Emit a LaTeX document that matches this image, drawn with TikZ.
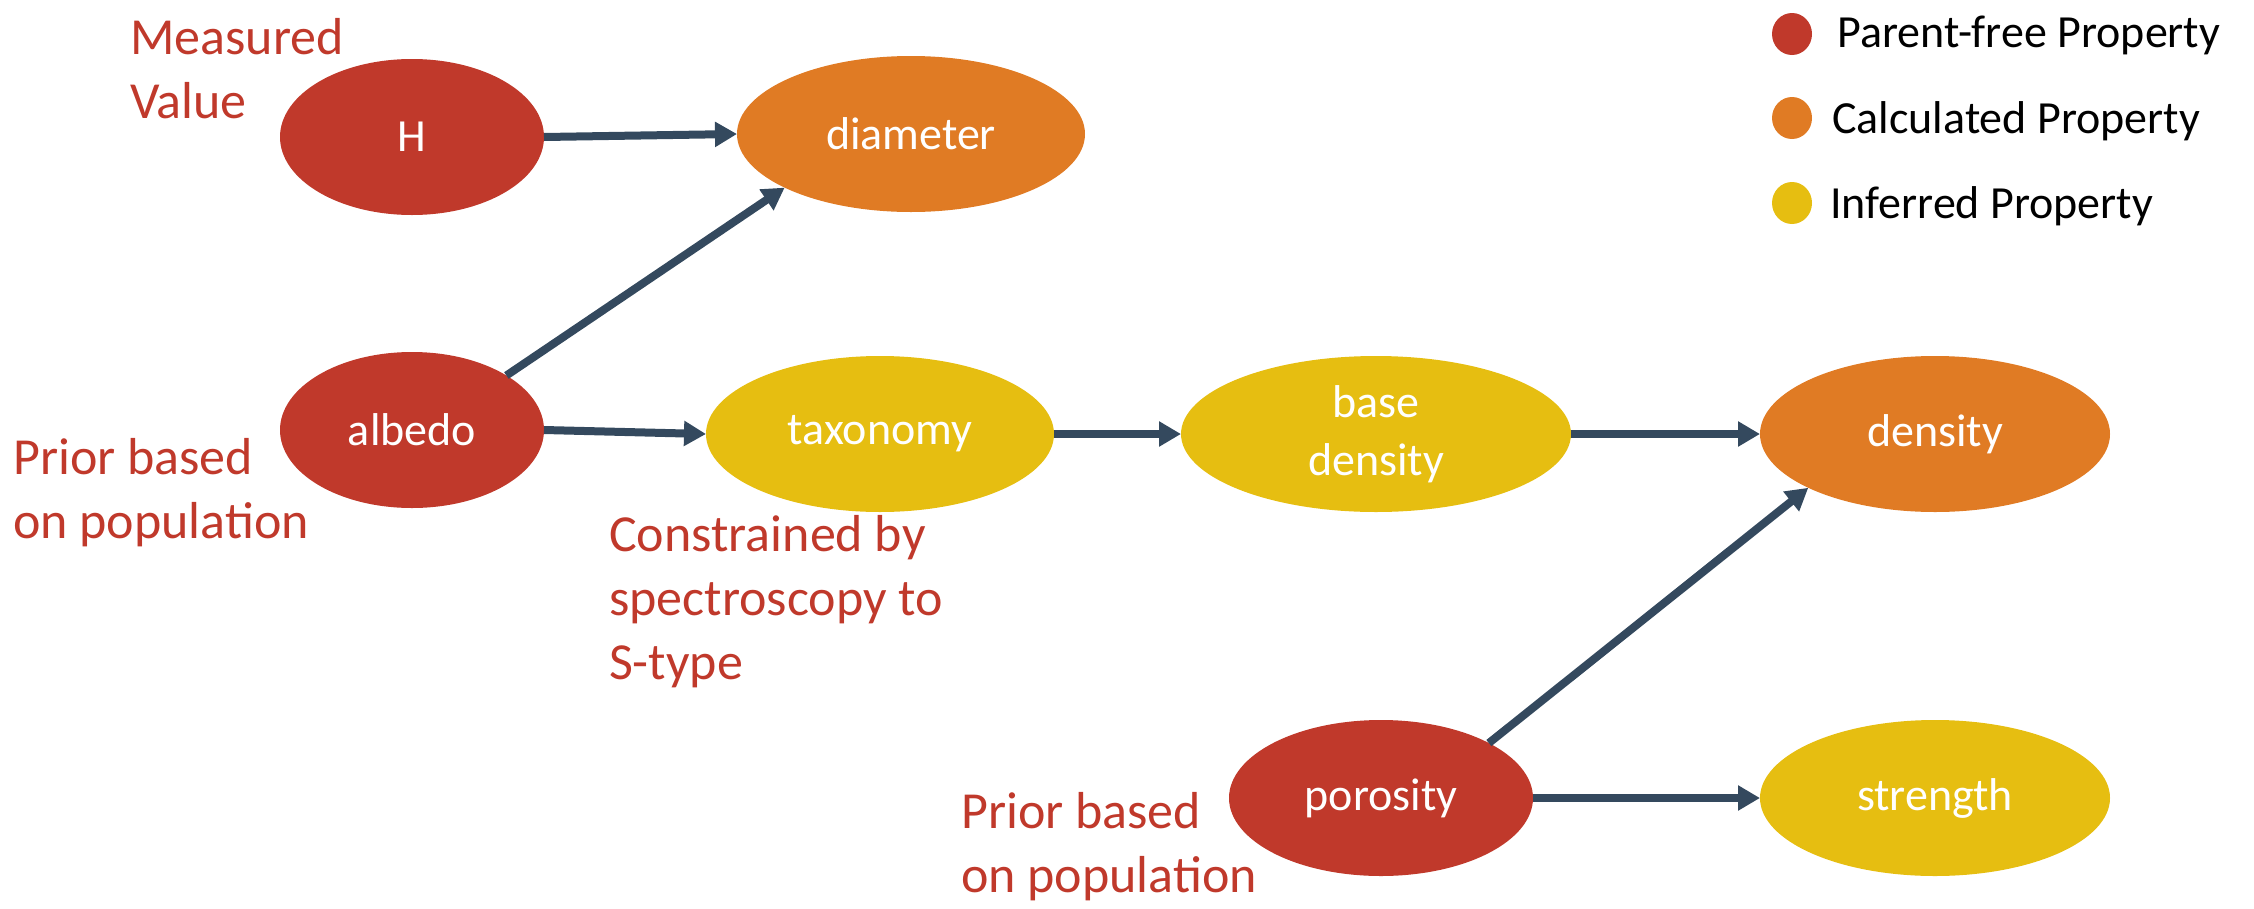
\documentclass[tikz,border=0pt]{standalone}
\usepackage{fontspec}
\setmainfont{Carlito}
\usetikzlibrary{shapes.geometric,arrows.meta}
\definecolor{cred}{HTML}{C0392B}
\definecolor{corange}{HTML}{E07B24}
\definecolor{cyellow}{HTML}{E6BE11}
\definecolor{carrow}{HTML}{34495E}
\tikzset{
  prop/.style={ellipse,inner sep=0pt,outer sep=0pt,text=white,
    font=\fontsize{46}{58}\selectfont,align=center},
  pfree/.style={prop,fill=cred},
  calc/.style={prop,fill=corange},
  infer/.style={prop,fill=cyellow},
  conn/.style={draw=carrow,line width=8pt,-{Triangle[length=22pt,width=24pt]}},
  annot/.style={text=cred,font=\fontsize{52}{64}\selectfont,align=left,inner sep=0pt,anchor=base west},
  legdot/.style={ellipse,fill=#1,minimum width=40pt,minimum height=42pt,inner sep=0pt},
  legtext/.style={font=\fontsize{46}{56}\selectfont,inner sep=0pt,anchor=base west}
}
\begin{document}
\begin{tikzpicture}[x=1pt,y=-1pt]
\useasboundingbox (0,0) rectangle (2254,908);
\node[pfree,minimum width=264pt,minimum height=156pt] (H) at (412,137) {H};
\node[calc,minimum width=348pt,minimum height=156pt] (diam) at (911,134) {diameter};
\node[pfree,minimum width=264pt,minimum height=156pt] (alb) at (412,430) {albedo};
\node[infer,minimum width=348pt,minimum height=156pt] (tax) at (880,434) {taxonomy};
\node[infer,minimum width=390pt,minimum height=156pt] (bden) at (1376,434) {base\\density};
\node[calc,minimum width=350pt,minimum height=156pt] (den) at (1935,434) {density};
\node[pfree,minimum width=304pt,minimum height=156pt] (por) at (1381,798) {porosity};
\node[infer,minimum width=350pt,minimum height=156pt] (str) at (1935,798) {strength};

\draw[conn] (H.east) -- (diam.west);
\draw[conn] (alb.30) -- (diam.203.5);
\draw[conn] (alb.east) -- (tax.west);
\draw[conn] (tax.east) -- (bden.west);
\draw[conn] (bden.east) -- (den.west);
\draw[conn] (por.27) -- (den.203.4);
\draw[conn] (por.east) -- (str.west);

\node[annot] (a1) at (130,118) {Measured\\Value};
\node[annot] (a2) at (13,538) {Prior based\\on population};
\node[annot] (a3) at (609,679) {Constrained by\\spectroscopy to\\S-type};
\node[annot] (a4) at (961,892) {Prior based\\on population};

\node[legdot=cred] (l1) at (1792,34) {};
\node[legdot=corange] (l2) at (1792,118) {};
\node[legdot=cyellow] (l3) at (1792,203) {};
\node[legtext] (t1) at (1837,47) {Parent-free Property};
\node[legtext] (t2) at (1832,133) {Calculated Property};
\node[legtext] (t3) at (1830,218) {Inferred Property};
\end{tikzpicture}
\end{document}
